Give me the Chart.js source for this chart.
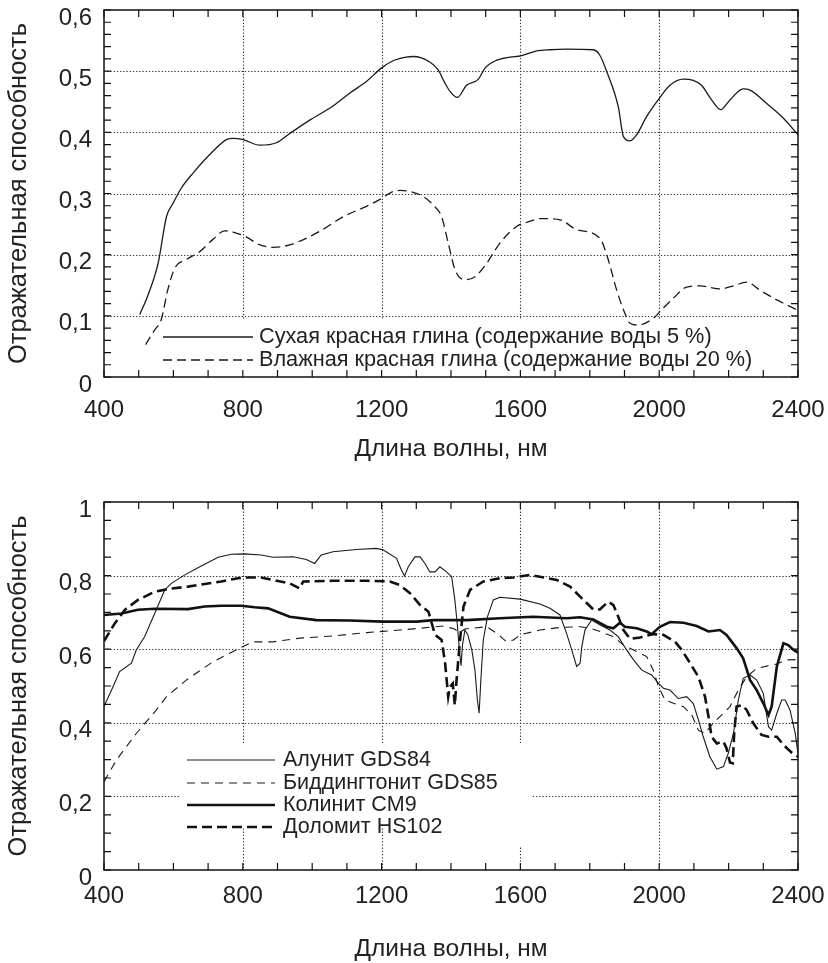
<!DOCTYPE html>
<html>
<head>
<meta charset="utf-8">
<script src="https://cdn.jsdelivr.net/npm/chart.js@4.4.1/dist/chart.umd.min.js"></script>
<style>
  body { margin: 0; background: #fff; overflow: hidden; }
  canvas { display: block; }
  #chartClay { margin-top: -12px; }
</style>
</head>
<body>
<canvas id="chartClay" width="828" height="477"></canvas>
<canvas id="chartMinerals" width="828" height="498"></canvas>
<script>
// --- подписи осей ---
const xLabels = [400, 800, 1200, 1600, 2000, 2400];
const clayYLabels = [0, 0.1, 0.2, 0.3, 0.4, 0.5, 0.6];
const mineralYLabels = [0, 0.2, 0.4, 0.6, 0.8, 1];

// --- данные: глина ---
const dryNm = [503, 527, 556, 580, 599, 623, 656, 714, 753, 772, 801, 849, 897, 935, 993, 1060, 1108, 1156, 1199, 1233, 1271, 1291, 1339, 1363, 1383, 1397, 1418, 1445, 1479, 1498, 1532, 1570, 1601, 1647, 1685, 1733, 1810, 1829, 1849, 1882, 1897, 1916, 1935, 1964, 1997, 2031, 2070, 2098, 2122, 2151, 2177, 2204, 2242, 2262, 2310, 2358, 2400];
const dryR = [0.102, 0.134, 0.186, 0.262, 0.284, 0.309, 0.333, 0.369, 0.388, 0.390, 0.388, 0.379, 0.383, 0.398, 0.420, 0.443, 0.464, 0.483, 0.505, 0.517, 0.523, 0.524, 0.515, 0.502, 0.480, 0.467, 0.457, 0.477, 0.487, 0.505, 0.518, 0.523, 0.525, 0.533, 0.535, 0.536, 0.535, 0.526, 0.499, 0.442, 0.393, 0.386, 0.396, 0.426, 0.453, 0.477, 0.487, 0.485, 0.477, 0.453, 0.437, 0.453, 0.471, 0.469, 0.447, 0.423, 0.396];

const wetNm = [520, 546, 565, 584, 604, 637, 676, 714, 748, 772, 810, 849, 887, 935, 1021, 1089, 1156, 1194, 1228, 1253, 1291, 1320, 1349, 1373, 1392, 1412, 1440, 1469, 1503, 1541, 1589, 1618, 1661, 1714, 1762, 1829, 1853, 1877, 1897, 1916, 1940, 1983, 2012, 2041, 2079, 2118, 2175, 2214, 2252, 2290, 2339, 2400];
const wetR = [0.053, 0.077, 0.094, 0.143, 0.178, 0.192, 0.205, 0.225, 0.239, 0.237, 0.229, 0.216, 0.212, 0.216, 0.238, 0.262, 0.279, 0.290, 0.302, 0.305, 0.302, 0.295, 0.281, 0.262, 0.219, 0.175, 0.159, 0.164, 0.186, 0.219, 0.246, 0.253, 0.259, 0.257, 0.241, 0.227, 0.192, 0.143, 0.110, 0.088, 0.085, 0.096, 0.113, 0.129, 0.147, 0.149, 0.144, 0.149, 0.155, 0.142, 0.126, 0.109];

// --- данные: минералы ---
const aluNm = [400, 426, 445, 479, 493, 517, 546, 575, 594, 633, 680, 729, 767, 805, 853, 887, 945, 983, 1007, 1026, 1060, 1127, 1185, 1204, 1243, 1257, 1266, 1277, 1296, 1311, 1325, 1339, 1354, 1368, 1387, 1402, 1411, 1418, 1424, 1429, 1433, 1440, 1448, 1460, 1469, 1476, 1481, 1486, 1493, 1505, 1522, 1541, 1599, 1656, 1685, 1714, 1733, 1748, 1762, 1772, 1777, 1786, 1805, 1830, 1858, 1882, 1906, 1926, 1950, 1978, 1998, 2012, 2031, 2055, 2079, 2098, 2113, 2127, 2146, 2166, 2185, 2199, 2214, 2228, 2242, 2262, 2281, 2300, 2315, 2324, 2339, 2353, 2363, 2377, 2392, 2400];
const aluR = [0.444, 0.498, 0.539, 0.562, 0.598, 0.634, 0.697, 0.761, 0.779, 0.802, 0.826, 0.850, 0.858, 0.859, 0.856, 0.850, 0.851, 0.844, 0.833, 0.856, 0.865, 0.871, 0.874, 0.870, 0.847, 0.815, 0.799, 0.824, 0.851, 0.851, 0.833, 0.810, 0.810, 0.824, 0.810, 0.797, 0.734, 0.670, 0.600, 0.555, 0.610, 0.652, 0.640, 0.598, 0.543, 0.462, 0.426, 0.516, 0.625, 0.688, 0.734, 0.741, 0.736, 0.723, 0.711, 0.693, 0.643, 0.598, 0.553, 0.562, 0.607, 0.652, 0.679, 0.666, 0.652, 0.634, 0.598, 0.571, 0.543, 0.530, 0.507, 0.494, 0.489, 0.466, 0.471, 0.453, 0.408, 0.362, 0.308, 0.274, 0.281, 0.317, 0.371, 0.462, 0.521, 0.530, 0.516, 0.480, 0.389, 0.380, 0.426, 0.462, 0.462, 0.435, 0.371, 0.317];

const bidNm = [400, 436, 493, 551, 580, 637, 714, 781, 829, 887, 964, 1060, 1156, 1253, 1311, 1378, 1410, 1425, 1440, 1503, 1532, 1560, 1580, 1599, 1656, 1714, 1772, 1801, 1830, 1868, 1897, 1926, 1964, 1983, 1998, 2017, 2041, 2070, 2094, 2113, 2132, 2151, 2175, 2204, 2228, 2252, 2281, 2310, 2339, 2367, 2400];
const bidR = [0.240, 0.299, 0.371, 0.435, 0.471, 0.516, 0.566, 0.598, 0.620, 0.620, 0.630, 0.636, 0.645, 0.652, 0.657, 0.663, 0.655, 0.645, 0.655, 0.661, 0.643, 0.620, 0.625, 0.639, 0.652, 0.659, 0.661, 0.657, 0.648, 0.634, 0.611, 0.598, 0.580, 0.543, 0.498, 0.462, 0.453, 0.444, 0.421, 0.380, 0.371, 0.394, 0.417, 0.444, 0.489, 0.525, 0.548, 0.554, 0.560, 0.571, 0.572];

const kolNm = [400, 450, 498, 546, 642, 690, 738, 796, 834, 873, 935, 1012, 1108, 1204, 1301, 1349, 1445, 1541, 1637, 1733, 1772, 1810, 1849, 1868, 1887, 1901, 1935, 1964, 1978, 2002, 2031, 2070, 2108, 2142, 2175, 2194, 2223, 2242, 2262, 2281, 2300, 2315, 2324, 2339, 2358, 2372, 2387, 2400];
const kolR = [0.693, 0.697, 0.707, 0.710, 0.709, 0.716, 0.718, 0.718, 0.714, 0.711, 0.688, 0.679, 0.678, 0.675, 0.675, 0.679, 0.679, 0.684, 0.688, 0.684, 0.687, 0.681, 0.661, 0.657, 0.672, 0.661, 0.657, 0.648, 0.641, 0.661, 0.674, 0.672, 0.663, 0.648, 0.652, 0.639, 0.603, 0.575, 0.516, 0.489, 0.453, 0.421, 0.444, 0.553, 0.616, 0.611, 0.598, 0.591];

const dolNm = [400, 431, 460, 498, 546, 594, 642, 690, 738, 786, 815, 853, 887, 935, 964, 974, 1060, 1156, 1224, 1253, 1282, 1311, 1335, 1354, 1373, 1383, 1392, 1397, 1405, 1411, 1416, 1426, 1436, 1455, 1493, 1541, 1580, 1628, 1656, 1705, 1743, 1772, 1810, 1829, 1853, 1868, 1882, 1897, 1916, 1945, 1983, 2012, 2046, 2065, 2089, 2113, 2132, 2142, 2151, 2166, 2185, 2194, 2204, 2212, 2216, 2223, 2238, 2252, 2271, 2295, 2315, 2339, 2358, 2382, 2400];
const dolR = [0.622, 0.670, 0.707, 0.734, 0.756, 0.765, 0.770, 0.777, 0.784, 0.793, 0.795, 0.795, 0.788, 0.779, 0.765, 0.784, 0.786, 0.786, 0.784, 0.774, 0.752, 0.720, 0.702, 0.639, 0.625, 0.562, 0.471, 0.498, 0.507, 0.448, 0.516, 0.625, 0.716, 0.761, 0.784, 0.793, 0.795, 0.802, 0.797, 0.788, 0.770, 0.743, 0.708, 0.708, 0.729, 0.720, 0.688, 0.652, 0.628, 0.632, 0.641, 0.639, 0.620, 0.598, 0.562, 0.525, 0.471, 0.417, 0.362, 0.344, 0.349, 0.331, 0.292, 0.290, 0.371, 0.444, 0.448, 0.435, 0.399, 0.367, 0.362, 0.362, 0.340, 0.319, 0.308];

const FONT = "'Liberation Sans', Arial, sans-serif";
const INK = '#222';
Chart.defaults.font.family = FONT;
Chart.defaults.color = INK;

const pts = (xs, ys) => xs.map((x, i) => ({ x: x, y: ys[i] }));
const comma = v => String(+v.toFixed(2)).replace('.', ',');

// рамка, засечки внутрь, пунктирная сетка и легенда
const frame = {
  id: 'frame',
  beforeDatasetsDraw(chart, args, o) {
    const { ctx, chartArea: a, scales: { x, y } } = chart;
    ctx.save();
    ctx.strokeStyle = '#333';
    ctx.lineWidth = 1.1;
    ctx.setLineDash([1.3, 1.9]);
    ctx.beginPath();
    o.gridX.forEach(v => {
      const px = Math.round(x.getPixelForValue(v)) + 0.5;
      ctx.moveTo(px, a.top); ctx.lineTo(px, a.bottom);
    });
    o.gridY.forEach(v => {
      const py = Math.round(y.getPixelForValue(v)) + 0.5;
      ctx.moveTo(a.left, py); ctx.lineTo(a.right, py);
    });
    ctx.stroke();
    ctx.setLineDash([]);
    ctx.fillStyle = '#fff';
    o.boxes.forEach(b => ctx.fillRect(a.left + b[0], a.top + b[1], b[2], b[3]));
    ctx.restore();
  },
  afterDraw(chart, args, o) {
    const { ctx, chartArea: a, scales: { x, y } } = chart;
    ctx.save();
    ctx.strokeStyle = '#111';
    ctx.lineWidth = 1.2;
    ctx.beginPath();
    for (let v = x.min; v <= x.max + 1e-6; v += o.minorX) {
      const px = x.getPixelForValue(v);
      ctx.moveTo(px, a.bottom); ctx.lineTo(px, a.bottom - o.tick);
      ctx.moveTo(px, a.top); ctx.lineTo(px, a.top + o.tick);
    }
    for (let v = y.min; v <= y.max + 1e-6; v += o.minorY) {
      const py = y.getPixelForValue(v);
      ctx.moveTo(a.left, py); ctx.lineTo(a.left + o.tick, py);
      ctx.moveTo(a.right, py); ctx.lineTo(a.right - o.tick, py);
    }
    ctx.stroke();
    ctx.lineWidth = 1.5;
    ctx.strokeRect(a.left, a.top, a.right - a.left, a.bottom - a.top);

    // легенда
    ctx.font = o.legendFont + 'px ' + FONT;
    ctx.textBaseline = 'middle';
    ctx.fillStyle = INK;
    chart.data.datasets.forEach((ds, i) => {
      const ly = a.bottom - o.legendRows[i];
      ctx.beginPath();
      ctx.strokeStyle = ds.borderColor;
      ctx.lineWidth = ds.borderWidth;
      ctx.setLineDash(ds.borderDash || []);
      ctx.moveTo(a.left + o.legendX[0], ly);
      ctx.lineTo(a.left + o.legendX[1], ly);
      ctx.stroke();
      ctx.setLineDash([]);
      ctx.fillText(ds.label, a.left + o.legendX[2], ly);
    });
    ctx.restore();
  }
};

function makeChart(id, datasets, yMax, yLabels, opt) {
  return new Chart(document.getElementById(id), {
    type: 'line',
    data: { datasets: datasets },
    plugins: [frame],
    options: {
      responsive: false,
      animation: false,
      devicePixelRatio: 1,
      layout: { padding: { top: opt.top, right: 30, left: 0, bottom: 0 } },
      elements: { point: { radius: 0 } },
      plugins: {
        legend: { display: false },
        tooltip: { enabled: false },
        frame: opt.frame
      },
      scales: {
        x: {
          type: 'linear', min: 400, max: 2400,
          grid: { display: false, drawTicks: false },
          border: { display: false },
          afterBuildTicks: s => { s.ticks = xLabels.map(v => ({ value: v })); },
          ticks: { padding: 0, font: { size: 24, lineHeight: opt.xLine }, maxRotation: 0, autoSkip: false, callback: v => String(v) },
          title: { display: true, text: 'Длина волны, нм', font: { size: 24.4, lineHeight: 1 }, padding: { top: 0, bottom: opt.titlePad } },
          afterFit: s => { s.height = opt.xHeight; }
        },
        y: {
          type: 'linear', min: 0, max: yMax,
          grid: { display: false, drawTicks: false },
          border: { display: false },
          afterBuildTicks: s => { s.ticks = yLabels.map(v => ({ value: v })); },
          ticks: { padding: 12, labelOffset: 8, font: { size: 24, lineHeight: 0.8 }, callback: comma },
          title: { display: true, text: 'Отражательная способность', font: { size: 25.5, lineHeight: 1 }, padding: { top: 6.5, bottom: 0 } },
          afterFit: s => { s.width = 104; }
        }
      }
    }
  });
}

makeChart('chartClay', [
  { label: 'Сухая красная глина (содержание воды 5 %)', data: pts(dryNm, dryR), borderColor: '#1a1a1a', borderWidth: 1.3, cubicInterpolationMode: 'monotone' },
  { label: 'Влажная красная глина (содержание воды 20 %)', data: pts(wetNm, wetR), borderColor: '#1a1a1a', borderWidth: 1.3, borderDash: [9, 5], cubicInterpolationMode: 'monotone' }
], 0.6, clayYLabels, {
  top: 22, xLine: 2.75, xHeight: 88, titlePad: 4,
  frame: {
    gridX: [800, 1200, 1600, 2000], gridY: [0.1, 0.2, 0.3, 0.4, 0.5],
    minorX: 100, minorY: 0.02, tick: 7,
    boxes: [[46, 309, 645, 57]],
    legendFont: 21.7, legendRows: [40, 17], legendX: [59, 149, 155]
  }
});

makeChart('chartMinerals', [
  { label: 'Алунит GDS84', data: pts(aluNm, aluR), borderColor: '#1a1a1a', borderWidth: 1.1 },
  { label: 'Биддингтонит GDS85', data: pts(bidNm, bidR), borderColor: '#1a1a1a', borderWidth: 1.1, borderDash: [8, 6] },
  { label: 'Колинит CM9', data: pts(kolNm, kolR), borderColor: '#111', borderWidth: 2.6 },
  { label: 'Доломит HS102', data: pts(dolNm, dolR), borderColor: '#111', borderWidth: 2.6, borderDash: [10, 5] }
], 1, mineralYLabels, {
  top: 37, xLine: 2.2, xHeight: 93, titlePad: 1.2,
  frame: {
    gridX: [800, 1200, 1600, 2000], gridY: [0.2, 0.4, 0.6, 0.8],
    minorX: 100, minorY: 0.05, tick: 7,
    boxes: [[76, 241, 351, 85], [401, 241, 26, 104]],
    legendFont: 21.5, legendRows: [110, 87, 65, 43], legendX: [83, 171, 179]
  }
});
</script>
</body>
</html>
